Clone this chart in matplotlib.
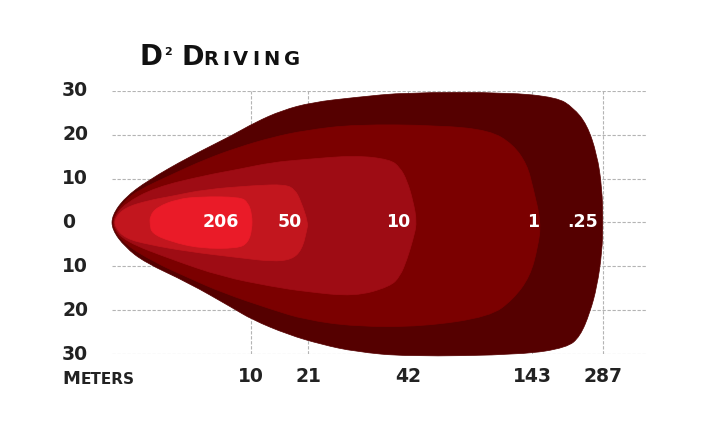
import matplotlib
matplotlib.use("Agg")
import matplotlib.pyplot as plt
from matplotlib.patches import PathPatch
from matplotlib.path import Path
from matplotlib.transforms import blended_transform_factory

# beam outlines: x = position along the chart (0..535), y = degrees
# each contour is listed from the tip along the top edge and back along the bottom
lux_025 = [(0, 1.6), (13, 5.71), (36, 9.59), (76, 14.84), (120, 19.86), (143, 22.83),
           (170, 25.57), (200, 27.40), (243, 28.54), (295, 29.68), (395, 29.68),
           (445, 28.54), (461, 26.26), (475, 22.37), (485, 15.53), (490, 7.99), (491, 0.0),
           (490, -6.85), (485, -14.61), (478, -20.55), (468, -26.03), (455, -28.54),
           (411, -30.14), (295, -30.59), (243, -29.45), (210, -27.85), (176, -25.57),
           (140, -22.15), (120, -19.41), (76, -13.70), (33, -9.13), (13, -5.6), (0, -1.6)]
lux_1 = [(1, 1.4), (13, 5.0), (26, 7.31), (60, 10.96), (93, 14.38), (126, 17.12),
         (160, 19.41), (193, 21.00), (243, 22.37), (328, 22.15), (378, 21.00), (401, 17.81),
         (415, 13.24), (421, 7.99), (429, 0.0), (426, -5.48), (418, -12.33), (401, -17.58),
         (378, -21.46), (311, -23.74), (243, -23.74), (193, -22.15), (160, -19.86),
         (110, -15.98), (76, -12.56), (43, -9.13), (13, -5.0), (1, -1.4)]
lux_10 = [(2, 1.2), (13, 4.3), (43, 7.99), (93, 10.73), (126, 12.10), (160, 13.70),
          (193, 14.38), (243, 15.30), (278, 14.38), (288, 12.56), (295, 9.59), (301, 5.02),
          (305, 0.0), (301, -3.88), (295, -8.45), (288, -12.33), (278, -14.61),
          (243, -16.89), (193, -15.75), (160, -14.61), (110, -12.33), (60, -8.45),
          (13, -4.3), (2, -1.2)]
lux_50 = [(3, 1.0), (13, 3.4), (36, 5.0), (60, 6.0), (93, 7.53), (143, 8.45), (173, 8.68),
          (183, 7.53), (189, 4.79), (196, 0.0), (195, -1.60), (190, -6.16), (180, -8.45),
          (160, -8.90), (126, -7.99), (76, -6.62), (36, -5.0), (13, -3.6), (3, -1.0)]
lux_206 = [(38, 1.5), (45, 3.5), (65, 5.3), (88, 5.9), (128, 5.8), (136, 4.6), (140, 1.8),
           (140, -1.6), (136, -4.6), (126, -5.9), (88, -5.9), (58, -4.3), (40, -2.5),
           (38, -0.5)]

contours = [lux_025, lux_1, lux_10, lux_50, lux_206]
contour_colors = ["#550000", "#7b0000", "#9e0c14", "#c2161e", "#ea1b28"]
lux_labels = ["206", "50", "10", "1", ".25"]
lux_label_x = [109, 178, 286, 421, 471]

deg_ticks = [30, 20, 10, 0, -10, -20, -30]
deg_labels = ["30", "20", "10", "0", "10", "20", "30"]
meter_pos = [139, 196, 296, 420, 491]
meter_labels = ["10", "21", "42", "143", "287"]


def smooth_path(pts):
    # closed outline, corners rounded with quadratic curves through edge midpoints
    n = len(pts)
    mids = [((pts[i][0] + pts[(i + 1) % n][0]) / 2, (pts[i][1] + pts[(i + 1) % n][1]) / 2)
            for i in range(n)]
    verts = [mids[-1]]
    codes = [Path.MOVETO]
    for i in range(n):
        verts += [pts[i], mids[i]]
        codes += [Path.CURVE3, Path.CURVE3]
    verts.append(mids[-1])
    codes.append(Path.CLOSEPOLY)
    return Path(verts, codes)


fig = plt.figure(figsize=(7.06, 4.46), dpi=100)
ax = fig.add_axes([112 / 706, 92 / 446, 535 / 706, 263 / 446])
ax.set_xlim(0, 535)
ax.set_ylim(-30, 30)
ax.axis("off")

grid_kw = dict(color="#b4b4b4", lw=0.8, ls=(0, (3, 1.5)), zorder=1)
for d in deg_ticks:
    ax.axhline(d, **grid_kw)
for m in meter_pos:
    ax.axvline(m, **grid_kw)

for pts, c in zip(contours, contour_colors):
    ax.add_patch(PathPatch(smooth_path(pts), fc=c, ec=c, lw=0.5, zorder=2, clip_on=False))

for lab, x in zip(lux_labels, lux_label_x):
    ax.text(x, 0, lab, color="white", fontsize=12.5, fontweight="bold",
            ha="center", va="center", zorder=3)

# y labels, left aligned at the page margin
ty = blended_transform_factory(fig.transFigure, ax.transData)
for d, lab in zip(deg_ticks, deg_labels):
    fig.text(62 / 706, d, lab, transform=ty, fontsize=13.5, fontweight="bold",
             color="#222222", ha="left", va="center")

# distance labels under the chart
tx = blended_transform_factory(ax.transData, fig.transFigure)
for m, lab in zip(meter_pos, meter_labels):
    ax.text(m, 1 - 377 / 446, lab, transform=tx, fontsize=13.5, fontweight="bold",
            color="#222222", ha="center", va="center", clip_on=False)

# "Meters" in small caps
base_m = 1 - 384 / 446
fig.text(62 / 706, base_m, "M", fontsize=13, fontweight="bold", color="#222222",
         va="baseline")
fig.text(81 / 706, base_m, "ETERS", fontsize=11, fontweight="bold", color="#222222",
         va="baseline")

# title "D² Driving" in small caps, letters spaced out a little
base_t = 1 - 65 / 446
fig.text(140 / 706, base_t, "D", fontsize=20, fontweight="bold", color="#111111",
         va="baseline")
fig.text(164 / 706, 1 - 55 / 446, "2", fontsize=8, fontweight="bold", color="#111111",
         va="baseline")
fig.text(182 / 706, base_t, "D", fontsize=19.5, fontweight="bold", color="#111111",
         va="baseline")
for ch, lx in zip("RIVING", [203, 222, 233, 252, 263, 284]):
    fig.text(lx / 706, base_t, ch, fontsize=14, fontweight="bold", color="#111111",
             ha="left", va="baseline")

fig.savefig("out.png", dpi=100)
